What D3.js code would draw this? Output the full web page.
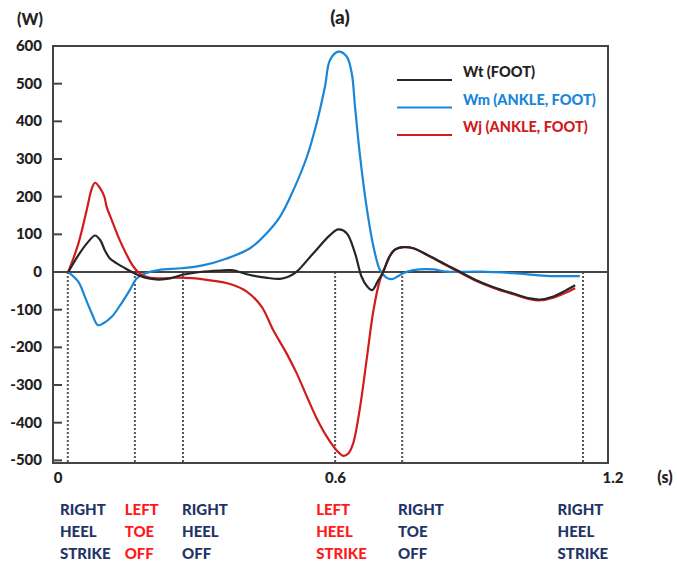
<!DOCTYPE html>
<html>
<head>
<meta charset="utf-8">
<script src="https://cdn.jsdelivr.net/npm/d3@7"></script>
<style>
  body { margin: 0; background: #fff; }
  text { font-family: Lato, "Open Sans", sans-serif; font-weight: 900; }
</style>
</head>
<body>
<div id="chart"></div>
<script>
// series: [time (s), power (W)]
var wtPoints = [[0.033,0],[0.055,45],[0.076,80],[0.091,97],[0.102,85],[0.112,58],[0.123,36],[0.138,23],[0.156,10],[0.177,-4],[0.199,-15],[0.228,-20],[0.253,-17],[0.278,-8],[0.318,0],[0.36,4],[0.386,5],[0.426,-8],[0.46,-15],[0.491,-18],[0.51,-12],[0.527,1],[0.563,50],[0.599,98],[0.617,113],[0.635,103],[0.653,50],[0.667,-12],[0.679,-38],[0.69,-48],[0.702,-25],[0.714,0],[0.726,38],[0.74,60],[0.757,66],[0.779,63],[0.815,42],[0.851,19],[0.887,-4],[0.923,-26],[0.959,-43],[0.995,-57],[1.031,-70],[1.053,-73],[1.082,-65],[1.107,-50],[1.129,-35]];
var wmPoints = [[0.033,0],[0.055,-26],[0.069,-66],[0.084,-110],[0.097,-141],[0.109,-136],[0.127,-119],[0.148,-83],[0.166,-48],[0.181,-17],[0.199,-4],[0.228,5],[0.278,10],[0.321,17],[0.376,36],[0.426,63],[0.462,103],[0.491,147],[0.52,218],[0.549,306],[0.57,395],[0.588,492],[0.599,563],[0.617,585],[0.635,572],[0.646,527],[0.653,439],[0.664,306],[0.678,173],[0.693,67],[0.707,5],[0.72,-14],[0.732,-19],[0.745,-12],[0.757,-3],[0.779,5],[0.822,7],[0.851,1],[0.923,1],[0.995,-3],[1.067,-10],[1.139,-11]];
var wjPoints = [[0.033,0],[0.055,76],[0.073,165],[0.084,222],[0.091,237],[0.102,222],[0.111,200],[0.116,173],[0.127,138],[0.141,94],[0.156,54],[0.174,14],[0.188,-4],[0.206,-14],[0.235,-17],[0.264,-15],[0.3,-16],[0.34,-22],[0.383,-32],[0.419,-52],[0.451,-92],[0.476,-154],[0.505,-216],[0.527,-269],[0.549,-331],[0.57,-388],[0.592,-437],[0.613,-473],[0.628,-488],[0.639,-481],[0.649,-455],[0.664,-358],[0.678,-234],[0.693,-101],[0.707,-21],[0.721,22],[0.736,56],[0.757,66],[0.779,63],[0.815,41],[0.851,17],[0.887,-6],[0.923,-28],[0.959,-45],[0.995,-59],[1.031,-72],[1.053,-75],[1.082,-68],[1.107,-56],[1.129,-43]];

var seriesNames = ["Wt (FOOT)", "Wm (ANKLE, FOOT)", "Wj (ANKLE, FOOT)"];
var seriesColors = ["#262626", "#1a86d8", "#d01c1c"];

var yTicks = [600, 500, 400, 300, 200, 100, 0, -100, -200, -300, -400, -500];
var xTicks = [0, 0.6, 1.2];

// gait events
var eventTimes = [0.032, 0.177, 0.281, 0.61, 0.755, 1.146];
var eventLabelTimes = [0.015, 0.155, 0.279, 0.569, 0.746, 1.091];
var eventLabels = [["RIGHT","HEEL","STRIKE"], ["LEFT","TOE","OFF"], ["RIGHT","HEEL","OFF"],
                   ["LEFT","HEEL","STRIKE"], ["RIGHT","TOE","OFF"], ["RIGHT","HEEL","STRIKE"]];
var eventSide = ["R", "L", "R", "L", "R", "R"];

var width = 677, height = 562;
var margin = {top: 46, right: 69, bottom: 99, left: 53};

var svg = d3.select("#chart")
  .append("svg")
  .attr("width", width)
  .attr("height", height);

var x = d3.scaleLinear().domain([0, 1.2]).range([margin.left, width - margin.right]);
var y = d3.scaleLinear().domain([-507, 600]).range([height - margin.bottom, margin.top]);

// frame
svg.append("rect")
  .attr("x", margin.left)
  .attr("y", margin.top)
  .attr("width", width - margin.left - margin.right)
  .attr("height", height - margin.top - margin.bottom)
  .attr("fill", "none")
  .attr("stroke", "#444")
  .attr("stroke-width", 2);

// y ticks (inward) + labels
svg.selectAll(".ytick")
  .data(yTicks.filter(d => d !== 600))
  .enter().append("line")
  .attr("x1", margin.left)
  .attr("x2", margin.left + 9)
  .attr("y1", d => y(d))
  .attr("y2", d => y(d))
  .attr("stroke", "#444")
  .attr("stroke-width", 2);

svg.selectAll(".ylab")
  .data(yTicks)
  .enter().append("text")
  .attr("x", 42)
  .attr("y", d => y(d) + 5)
  .attr("text-anchor", "end")
  .attr("font-size", 15)
  .attr("fill", "#222")
  .text(d => d);

svg.selectAll(".xlab")
  .data(xTicks)
  .enter().append("text")
  .attr("x", d => x(d) + 5)
  .attr("y", 483)
  .attr("text-anchor", "middle")
  .attr("font-size", 15)
  .attr("fill", "#222")
  .text(d => d);

svg.append("text").attr("x", 30).attr("y", 25).attr("text-anchor", "middle")
  .attr("font-size", 16).attr("fill", "#222").text("(W)");
svg.append("text").attr("x", 665).attr("y", 483).attr("text-anchor", "middle")
  .attr("font-size", 16).attr("fill", "#222").text("(s)");
svg.append("text").attr("x", 340).attr("y", 24).attr("text-anchor", "middle")
  .attr("font-size", 19).attr("fill", "#222").text("(a)");

// event dotted lines
svg.selectAll(".event")
  .data(eventTimes)
  .enter().append("line")
  .attr("x1", d => x(d))
  .attr("x2", d => x(d))
  .attr("y1", y(0))
  .attr("y2", height - margin.bottom)
  .attr("stroke", "#555")
  .attr("stroke-width", 2)
  .attr("stroke-dasharray", "2,2");

// zero line
svg.append("line")
  .attr("x1", margin.left)
  .attr("x2", width - margin.right)
  .attr("y1", y(0))
  .attr("y2", y(0))
  .attr("stroke", "#444")
  .attr("stroke-width", 2);

// curves
var line = d3.line()
  .x(d => x(d[0]))
  .y(d => y(d[1]))
  .curve(d3.curveCatmullRom.alpha(0.5));

[wmPoints, wjPoints, wtPoints].forEach(function(pts, i) {
  var idx = [1, 2, 0][i];
  svg.append("path")
    .datum(pts)
    .attr("fill", "none")
    .attr("stroke", seriesColors[idx])
    .attr("stroke-width", 2.2)
    .attr("stroke-linejoin", "round")
    .attr("d", line);
});

// legend
var legend = svg.append("g").attr("transform", "translate(397,80)");
seriesNames.forEach(function(name, i) {
  legend.append("line")
    .attr("x1", 0).attr("x2", 55)
    .attr("y1", i * 27.5).attr("y2", i * 27.5)
    .attr("stroke", seriesColors[i])
    .attr("stroke-width", 2.2);
  legend.append("text")
    .attr("x", 66)
    .attr("y", i * 27.5 - 3)
    .attr("font-size", 14.5)
    .attr("fill", i === 0 ? "#222" : seriesColors[i])
    .text(name);
});

// event labels under axis
eventLabels.forEach(function(words, i) {
  words.forEach(function(w, j) {
    svg.append("text")
      .attr("x", x(eventLabelTimes[i]))
      .attr("y", 515 + j * 22)
      .attr("font-size", 15)
      .attr("fill", eventSide[i] === "L" ? "#ff1a1a" : "#1f3468")
      .text(w);
  });
});
</script>
</body>
</html>
